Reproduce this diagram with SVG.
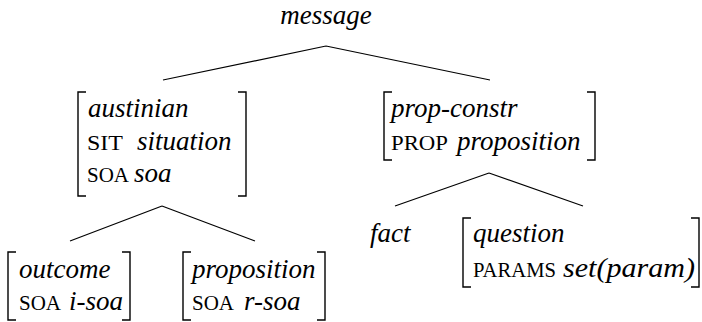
<svg xmlns="http://www.w3.org/2000/svg" width="702" height="322" viewBox="0 0 702 322">
<style>
.it{font-family:"Liberation Serif","Times New Roman",serif;font-style:italic;font-size:27px;fill:#000}
.sc{font-family:"Liberation Serif","Times New Roman",serif;font-size:21px;fill:#000}
.br{fill:none;stroke:#000;stroke-width:1.4}
.ln{fill:none;stroke:#000;stroke-width:1.2}
</style>
<g id="connectors">
<path class="ln" d="M326 46 L163 80 M326 46 L490 80"/>
<path class="ln" d="M162 206 L70 241 M162 206 L255 241"/>
<path class="ln" d="M489 173 L395 206 M489 173 L583 206"/>
</g>
<g id="message">
<text class="it" x="326" y="24" text-anchor="middle">message</text>
</g>
<g id="austinian">
<path class="br" d="M86 92 H78 V196 H86 M238 92 H246 V196 H238"/>
<text class="it" x="88" y="117">austinian</text>
<text class="sc" x="87" y="150" textLength="36" lengthAdjust="spacingAndGlyphs">SIT</text>
<text class="it" x="137" y="150">situation</text>
<text class="sc" x="87" y="182" textLength="42" lengthAdjust="spacingAndGlyphs">SOA</text>
<text class="it" x="134" y="182">soa</text>
</g>
<g id="prop-constr">
<path class="br" d="M392 92 H384 V160 H392 M587 92 H595 V160 H587"/>
<text class="it" x="391" y="117">prop-constr</text>
<text class="sc" x="391" y="150" textLength="57" lengthAdjust="spacingAndGlyphs">PROP</text>
<text class="it" x="457" y="150">proposition</text>
</g>
<g id="fact">
<text class="it" x="370" y="242">fact</text>
</g>
<g id="question">
<path class="br" d="M471 218 H463 V287 H471 M691 218 H699 V287 H691"/>
<text class="it" x="473" y="242">question</text>
<text class="sc" x="473" y="277" textLength="83" lengthAdjust="spacingAndGlyphs">PARAMS</text>
<text class="it" x="563" y="277" textLength="132" lengthAdjust="spacingAndGlyphs">set(param)</text>
</g>
<g id="outcome">
<path class="br" d="M16 252 H8 V320 H16 M122 252 H130 V320 H122"/>
<text class="it" x="19" y="278">outcome</text>
<text class="sc" x="19" y="310" textLength="42" lengthAdjust="spacingAndGlyphs">SOA</text>
<text class="it" x="69" y="310">i-soa</text>
</g>
<g id="proposition">
<path class="br" d="M191 252 H183 V320 H191 M317 252 H325 V320 H317"/>
<text class="it" x="192" y="278">proposition</text>
<text class="sc" x="192" y="310" textLength="42" lengthAdjust="spacingAndGlyphs">SOA</text>
<text class="it" x="244" y="310">r-soa</text>
</g>
</svg>
